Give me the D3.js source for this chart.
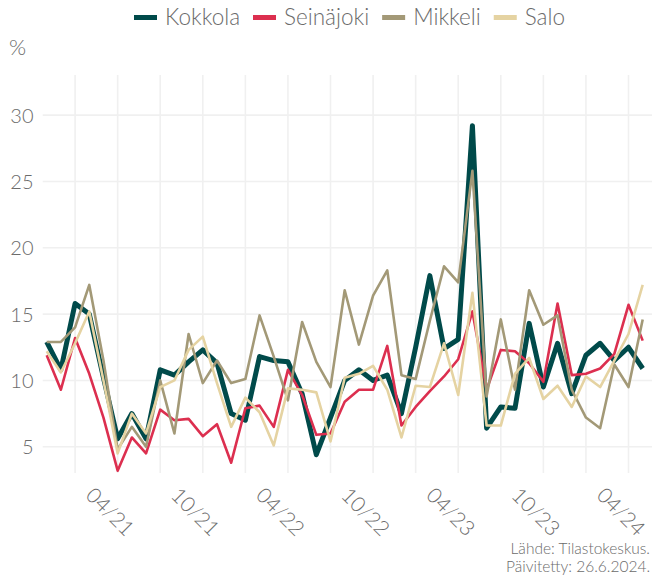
<!DOCTYPE html>
<html>
<head>
<meta charset="utf-8">
<script src="https://cdn.jsdelivr.net/npm/d3@7"></script>
<style>
  html, body { margin: 0; padding: 0; background: #ffffff; }
  svg { display: block; }
  text { font-family: "Lato", "Open Sans", sans-serif; font-weight: 300; fill: #6b6b6b; }
</style>
</head>
<body>
<svg id="chart" width="652" height="576"></svg>
<script>
// ---- data ----
const months = [
  "02/21","03/21","04/21","05/21","06/21","07/21","08/21","09/21","10/21","11/21","12/21",
  "01/22","02/22","03/22","04/22","05/22","06/22","07/22","08/22","09/22","10/22","11/22","12/22",
  "01/23","02/23","03/23","04/23","05/23","06/23","07/23","08/23","09/23","10/23","11/23","12/23",
  "01/24","02/24","03/24","04/24","05/24","06/24","07/24","08/24"
];
const seriesNames = ["Kokkola", "Seinäjoki", "Mikkeli", "Salo"];
const kokkola = [12.9,10.8,15.8,15.0,10.2,5.6,7.5,5.6,10.8,10.4,11.4,12.3,11.3,7.5,7.0,11.8,11.5,11.4,9.0,4.4,7.2,10.0,10.8,10.0,10.4,7.5,12.5,17.9,12.4,13.1,29.2,6.4,8.0,7.9,14.3,9.5,12.8,9.0,11.9,12.8,11.5,12.5,10.9];
const seinajoki = [11.9,9.3,13.2,10.5,7.2,3.2,5.7,4.5,7.8,7.0,7.1,5.8,6.7,3.8,7.9,8.1,6.5,10.8,8.9,5.9,6.0,8.4,9.3,9.3,12.6,6.6,8.0,9.2,10.3,11.6,15.2,9.3,12.3,12.2,11.3,9.9,15.8,10.4,10.5,10.9,12.0,15.7,13.0];
const mikkeli = [12.9,12.9,14.0,17.2,11.5,4.8,6.5,5.0,10.0,6.0,13.5,9.8,11.5,9.8,10.1,14.9,11.8,8.5,14.4,11.4,9.5,16.8,12.7,16.4,18.3,10.4,10.1,14.5,18.6,17.4,25.8,8.8,14.6,9.3,16.8,14.2,14.9,9.3,7.2,6.4,11.2,9.5,14.6];
const salo = [12.2,10.6,12.8,15.2,10.0,4.5,7.5,6.0,9.5,10.0,12.3,13.3,9.8,6.5,8.7,7.6,5.1,9.4,9.3,9.1,5.4,10.2,10.5,11.1,9.3,5.7,9.6,9.5,12.8,8.9,16.6,6.6,6.6,10.5,11.7,8.6,9.6,8.0,10.3,9.5,11.5,13.5,17.2];
const xTickLabels = ["04/21","10/21","04/22","10/22","04/23","10/23","04/24"];
const xMinorGrid = ["07/21","01/22","07/22","01/23","07/23","01/24","07/24"];
const yTicks = [5, 10, 15, 20, 25, 30];
const colors = ["#004a4a", "#dc2f4f", "#a39977", "#e5d3a2"];
const widths = [5, 2.6, 2.6, 2.6];

// ---- layout ----
const svg = d3.select("#chart");
const panel = { left: 42.7, right: 652, top: 75, bottom: 473 };

const x = d3.scalePoint().domain(months).range([46.7, 642.7]);
const y = d3.scaleLinear().domain([3, 33]).range([473.3, 75.3]);

const grid = svg.append("g");
grid.selectAll("line.h").data(yTicks).join("line")
  .attr("x1", panel.left).attr("x2", panel.right)
  .attr("y1", d => y(d)).attr("y2", d => y(d))
  .attr("stroke", "#f0f0f0").attr("stroke-width", 1.6);
grid.selectAll("line.v").data(xTickLabels.concat(xMinorGrid)).join("line")
  .attr("x1", d => x(d)).attr("x2", d => x(d))
  .attr("y1", panel.top).attr("y2", panel.bottom)
  .attr("stroke", "#f0f0f0").attr("stroke-width", 1.6);

// y axis labels
const yAxis = d3.axisLeft(y).tickValues(yTicks).tickSize(0).tickPadding(0);
const gy = svg.append("g").attr("transform", "translate(33.5,0)").call(yAxis);
gy.select(".domain").remove();
gy.selectAll("text").attr("font-size", 20).attr("fill", "#6b6b6b")
  .style("font-family", "Lato, 'Open Sans', sans-serif").style("font-weight", 300)
  .attr("dy", "0.35em");

// x axis labels
const xAxis = d3.axisBottom(x).tickValues(xTickLabels).tickSize(0).tickPadding(0);
const gx = svg.append("g").call(xAxis);
gx.select(".domain").remove();
gx.selectAll(".tick").attr("transform", d => `translate(${x(d) + 20},486)`);
gx.selectAll("text")
  .attr("font-size", 21).attr("fill", "#6b6b6b")
  .style("font-family", "Lato, 'Open Sans', sans-serif").style("font-weight", 300)
  .attr("text-anchor", "start").attr("x", 0).attr("y", 0).attr("dy", "0.71em")
  .attr("transform", "rotate(45)");

// "%" label
svg.append("text").attr("x", 9).attr("y", 55).attr("font-size", 22).text("%");

// lines
const allSeries = [kokkola, seinajoki, mikkeli, salo];
const line = d3.line().x((d, i) => x(months[i])).y(d => y(d));
svg.append("g").selectAll("path").data(allSeries).join("path")
  .attr("d", d => line(d))
  .attr("fill", "none")
  .attr("stroke", (d, i) => colors[i])
  .attr("stroke-width", (d, i) => widths[i])
  .attr("stroke-linejoin", "round")
  .attr("stroke-linecap", "butt");

// legend
const legend = svg.append("g");
const items = legend.selectAll("g").data(seriesNames).join("g");
items.append("rect").attr("width", 23).attr("height", 5).attr("y", -3)
  .attr("fill", (d, i) => colors[i]);
items.append("text").attr("x", 31).attr("y", 0).attr("dy", "0.33em")
  .attr("font-size", 22.5).text(d => d);
let cx = 0;
const offs = [];
items.each(function(d, i) {
  const w = d3.select(this).select("text").node().getComputedTextLength();
  offs.push(cx);
  cx += 31 + w + 13;
});
const totalW = cx - 13;
const startX = 134;
items.attr("transform", (d, i) => `translate(${startX + offs[i] * (431 / totalW)},18)`);

// footer
const foot = svg.append("g").attr("font-size", 15.5);
foot.append("text").attr("x", 650).attr("y", 554).attr("text-anchor", "end").text("Lähde: Tilastokeskus.");
foot.append("text").attr("x", 650).attr("y", 571.5).attr("text-anchor", "end").text("Päivitetty: 26.6.2024.");
</script>
</body>
</html>
